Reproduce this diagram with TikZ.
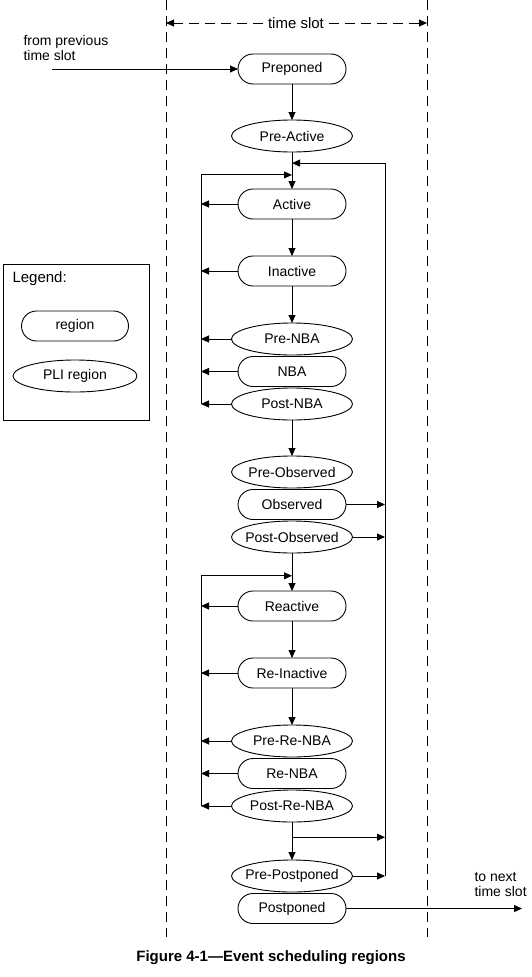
\documentclass[tikz,border=0pt]{standalone}
\usepackage{fontspec}
\setmainfont{Liberation Sans}
\usepackage{tikz}
\usetikzlibrary{arrows.meta, shapes.geometric, shapes.misc, positioning, calc}

\begin{document}
\begin{tikzpicture}[
  x=1pt, y=-1pt,
  node distance=37pt,
  every node/.style={font=\fontsize{14}{15}\selectfont},
  region/.style={rounded rectangle, draw, line width=0.9pt, outer sep=0pt,
                 minimum width=108pt, minimum height=30pt, inner sep=0pt},
  pli/.style={ellipse, draw, line width=0.9pt, outer sep=0pt,
              minimum width=121pt, minimum height=32pt,
              inner ysep=0pt, inner xsep=-5pt},
  arr/.style={-{Triangle[length=8pt, width=7pt]}, line width=0.9pt},
  slotline/.style={dash pattern=on 10pt off 6pt, line width=0.9pt},
]
\useasboundingbox (0,0) rectangle (532,977);

%% time slot borders
\draw[slotline] (166,0) -- (166,937);
\draw[slotline] (427,0) -- (427,937);
\node[font=\fontsize{15}{16}\selectfont, fill=white, inner xsep=5pt] (tslot) at (296,23) {time slot};
\coordinate (tslotL) at (166,23);
\coordinate (tslotR) at (427,23);
\draw[slotline, arr] (tslot.west) -- (tslotL);
\draw[slotline, arr] (tslot.east) -- (tslotR);

%% regions (centre column)
\node[region] (prep) at (292,69) {Preponed};
\node[pli, below=36pt of prep]       (preact)    {Pre-Active};
\node[region, below=of preact]       (act)       {Active};
\node[region, below=of act]          (inact)     {Inactive};
\node[pli, below=of inact]           (prenba)    {Pre-NBA};
\node[region, below=1.5pt of prenba] (nba)       {NBA};
\node[pli, below=1.5pt of nba]       (postnba)   {Post-NBA};
\node[pli, below=36pt of postnba]    (preobs)    {Pre-Observed};
\node[region, below=1.5pt of preobs] (obs)       {Observed};
\node[pli, below=1.5pt of obs]       (postobs)   {Post-Observed};
\node[region, below=38pt of postobs] (react)     {Reactive};
\node[region, below=of react]        (reinact)   {Re-Inactive};
\node[pli, below=of reinact]         (prerenba)  {Pre-Re-NBA};
\node[region, below=1.5pt of prerenba] (renba)   {Re-NBA};
\node[pli, below=1.5pt of renba]     (postrenba) {Post-Re-NBA};
\node[pli, below=38pt of postrenba]  (prepost)   {Pre-Postponed};
\node[region, below=1.5pt of prepost] (postp)    {Postponed};

%% in / out of the time slot
\node[align=left, anchor=west] (fromprev) at (20,48) {from previous\\time slot};
\coordinate (prevslot) at (52,69);
\node[align=left, anchor=west] (tonext) at (471,885) {to next\\time slot};
\coordinate (nextslot) at (522,0);

%% rails and junctions
\coordinate (railL) at (201,0);
\coordinate (railR) at (385,0);
\coordinate (fbR)  at ($(preact.south)!0.3!(act.north)$);
\coordinate (fbL)  at ($(preact.south)!0.62!(act.north)$);
\coordinate (fbL2) at ($(postobs.south)!0.6!(react.north)$);
\coordinate (brR)  at ($(postrenba.south)!0.4!(prepost.north)$);

\draw[arr] (prevslot) -- (prep);
\draw[arr] (prep)      -- (preact);
\draw[arr] (preact)    -- (act);
\draw[arr] (act)       -- (inact);
\draw[arr] (inact)     -- (prenba);
\draw[arr] (postnba)   -- (preobs);
\draw[arr] (postobs)   -- (react);
\draw[arr] (react)     -- (reinact);
\draw[arr] (reinact)   -- (prerenba);
\draw[arr] (postrenba) -- (prepost);
\draw[arr] (postp.east) -- (postp.east -| nextslot);

% left loops
\foreach \n in {act, inact, prenba, nba, postnba, react, reinact, prerenba, renba, postrenba}
  \draw[arr] (\n.west) -- (\n.west -| railL);
\draw[arr] (postnba.west -| railL) -- (fbL -| railL) -- (fbL);
\draw[arr] (postrenba.west -| railL) -- (fbL2 -| railL) -- (fbL2);

% right rail
\foreach \n in {obs, postobs, prepost}
  \draw[arr] (\n.east) -- (\n.east -| railR);
\draw[arr] (brR) -- (brR -| railR);
\draw[arr] (prepost.east -| railR) -- (fbR -| railR) -- (fbR);

%% legend
\node[draw, line width=0.9pt, minimum width=146pt, minimum height=156pt] (legend) at (76,342) {};
\node[anchor=west, font=\fontsize{15}{16}\selectfont] (legtitle) at (9,279) {Legend:};
\node[region, minimum width=107pt] (legreg) at (75,326) {region};
\node[pli, minimum width=124pt] (legpli) at (75,376) {PLI region};

%% caption
\node[font=\fontsize{15}{16}\selectfont\bfseries] (caption) at (271,958) {Figure 4-1---Event scheduling regions};

\end{tikzpicture}
\end{document}
